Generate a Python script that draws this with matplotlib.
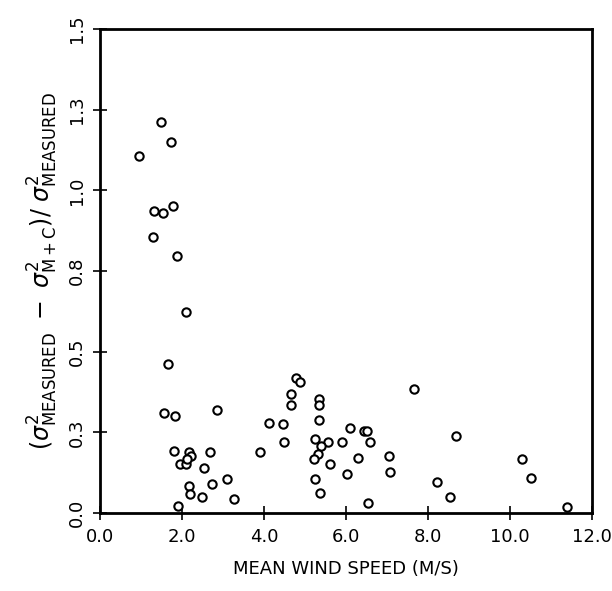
import matplotlib
matplotlib.use("Agg")
import matplotlib.pyplot as plt

wind_speed = [1.49, 1.73, 0.95, 1.32, 1.54, 1.79, 1.30, 1.88, 2.09, 1.65,
              1.56, 1.82, 2.85, 4.13, 1.80, 2.16, 2.22, 1.96, 2.09, 2.12,
              2.69, 3.91, 2.53, 2.17, 2.73, 3.10, 2.19, 2.49, 3.28, 1.91,
              4.47, 4.48, 4.79, 4.88, 4.67, 4.67, 5.34, 5.34, 5.34, 5.24,
              5.56, 5.38, 5.31, 5.22, 5.62, 5.25, 5.37, 5.90, 6.10, 6.03,
              6.29, 6.43, 6.51, 6.58, 6.54, 7.06, 7.07, 7.65, 8.22, 8.54,
              8.69, 10.29, 10.50, 11.39]
ratio = [1.211, 1.151, 1.107, 0.936, 0.931, 0.951, 0.855, 0.798, 0.622, 0.463,
         0.310, 0.302, 0.318, 0.278, 0.193, 0.190, 0.177, 0.153, 0.153, 0.168,
         0.188, 0.188, 0.139, 0.083, 0.090, 0.105, 0.060, 0.051, 0.042, 0.023,
         0.276, 0.219, 0.417, 0.407, 0.369, 0.334, 0.353, 0.334, 0.289, 0.229,
         0.220, 0.208, 0.183, 0.167, 0.153, 0.105, 0.063, 0.219, 0.263, 0.120,
         0.171, 0.253, 0.253, 0.220, 0.032, 0.176, 0.126, 0.384, 0.095, 0.049,
         0.239, 0.167, 0.110, 0.020]

x_ticks = [0, 2, 4, 6, 8, 10, 12]
x_ticklabels = ["0.0", "2.0", "4.0", "6.0", "8.0", "10.0", "12.0"]
y_ticks = [0, 0.25, 0.5, 0.75, 1.0, 1.25, 1.5]
y_ticklabels = ["0.0", "0.3", "0.5", "0.8", "1.0", "1.3", "1.5"]

fig = plt.figure(figsize=(6.12, 5.91), dpi=100)
ax = fig.add_axes([100/612, 78/591, 492/612, 484/591])

ax.plot(wind_speed, ratio, linestyle="none", marker="o", markersize=6.0,
        markerfacecolor="white", markeredgecolor="black", markeredgewidth=1.5)

ax.set_xlim(0, 12)
ax.set_ylim(0, 1.5)
ax.set_xticks(x_ticks)
ax.set_xticklabels(x_ticklabels, fontsize=13)
ax.set_yticks(y_ticks)
ax.set_yticklabels(y_ticklabels, fontsize=13, rotation=90, va="center")

for s in ax.spines.values():
    s.set_linewidth(2.0)
ax.tick_params(direction="inout", length=10, width=1.2, pad=6)
ax.tick_params(axis="y", pad=5)

ax.set_xlabel("MEAN WIND SPEED (M/S)", fontsize=13, labelpad=10)
ax.set_ylabel(r"$(\sigma^2_{\rm MEASURED}\ -\ \sigma^2_{\rm M+C})/\ \sigma^2_{\rm MEASURED}$",
              fontsize=17, labelpad=6)

fig.savefig("out.png", dpi=100)
